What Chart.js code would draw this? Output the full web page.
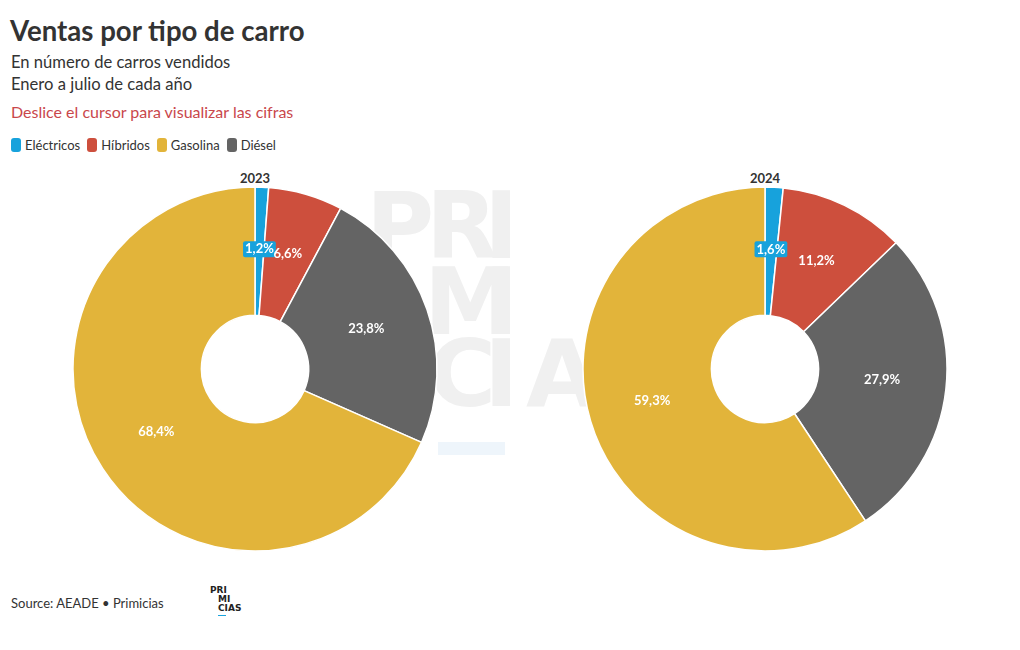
<!DOCTYPE html>
<html>
<head>
<meta charset="utf-8">
<script src="https://cdn.jsdelivr.net/npm/chart.js@4.4.1/dist/chart.umd.min.js"></script>
<style>
  body { margin:0; width:1020px; height:650px; background:#fff; font-family:"Lato", sans-serif; color:#333; position:relative; overflow:hidden; }
  .abs { position:absolute; }
  #title { left:10px; top:14px; font-size:27.6px; font-weight:bold; color:#333; }
  #sub1 { left:11px; top:52px; font-size:16.6px; }
  #sub2 { left:11px; top:74px; font-size:16.6px; }
  #hint { left:11px; top:102px; font-size:16px; color:#c9474b; }
  #legend { left:11px; top:137px; font-size:13px; display:flex; }
  #legend .it { display:flex; align-items:center; margin-right:7px; }
  #legend .sw { width:10px; height:14px; border-radius:3px; margin-right:4px; }
  .year { top:170px; width:60px; text-align:center; font-size:13px; font-weight:bold; }
  .wm { font-family:"DejaVu Sans", sans-serif; font-weight:bold; font-size:93px; color:#f0f0f0; line-height:1; }
  #wmbar { left:438px; top:442px; width:67px; height:13px; background:#eef5fb; }
  #source { left:11px; top:595px; font-size:13px; }
  #logo { left:210px; top:586px; font-family:"DejaVu Sans", sans-serif; font-weight:bold; font-size:9px; line-height:9px; color:#222; }
  canvas { position:absolute; }
</style>
</head>
<body>
<div class="abs" id="title">Ventas por tipo de carro</div>
<div class="abs" id="sub1">En número de carros vendidos</div>
<div class="abs" id="sub2">Enero a julio de cada año</div>
<div class="abs" id="hint">Deslice el cursor para visualizar las cifras</div>
<div class="abs" id="legend"></div>

<div class="abs wm" style="left:366px;top:180px;">P</div>
<div class="abs wm" style="left:426px;top:180px;">R</div>
<div class="abs wm" style="left:484px;top:180px;">I</div>
<div class="abs wm" style="left:424px;top:256px;">M</div>
<div class="abs wm" style="left:484px;top:256px;">I</div>
<div class="abs wm" style="left:428px;top:328px;">C</div>
<div class="abs wm" style="left:484px;top:328px;">I</div>
<div class="abs wm" style="left:526px;top:328px;">A</div>
<div class="abs wm" style="left:592px;top:328px;">S</div>
<div class="abs" id="wmbar"></div>

<div class="abs year" style="left:225px;">2023</div>
<div class="abs year" style="left:735px;">2024</div>

<canvas id="c2023" width="510" height="368" style="left:0;top:185px;"></canvas>
<canvas id="c2024" width="510" height="368" style="left:510px;top:185px;"></canvas>

<div class="abs" id="source">Source: AEADE • Primicias</div>
<div class="abs" id="logo">PRI<div style="padding-left:8px">MI</div><div style="padding-left:8px">CIAS</div><div style="margin-left:8px;width:8px;height:1px;background:#1aa3dc;margin-top:2px;"></div></div>

<script>
// orden de los segmentos en el anillo (empieza arriba, sentido horario)
const categories = ["Eléctricos", "Híbridos", "Diésel", "Gasolina"]
const values2023 = [1.2, 6.6, 23.8, 68.4]
const values2024 = [1.6, 11.2, 27.9, 59.3]
const colors = ["#17a2dc", "#cd4f3d", "#646464", "#e2b43a"]

// la leyenda va en otro orden
const legendOrder = ["Eléctricos", "Híbridos", "Gasolina", "Diésel"]

const leg = document.querySelector("#legend")
legendOrder.forEach(name => {
    var col = colors[categories.indexOf(name)]
    leg.innerHTML += `<div class="it"><div class="sw" style="background:${col}"></div>${name}</div>`
})

const labelsPlugin = {
    id: 'pctLabels',
    afterDatasetsDraw: (chart) => {
        const ctx = chart.ctx
        const meta = chart.getDatasetMeta(0)
        const data = chart.data.datasets[0].data
        ctx.save()
        ctx.font = 'bold 13px Lato, sans-serif'
        ctx.textAlign = 'center'
        ctx.textBaseline = 'middle'
        meta.data.forEach((arc, i) => {
            var p = arc.tooltipPosition()
            var y = p.y - 2
            var txt = data[i].toFixed(1).replace('.', ',') + '%'
            if (data[i] < 3) {
                var w = ctx.measureText(txt).width + 4
                ctx.fillStyle = colors[i]
                ctx.beginPath()
                ctx.roundRect(p.x - w / 2, y - 8, w, 16, 2)
                ctx.fill()
            }
            ctx.fillStyle = '#fff'
            ctx.fillText(txt, p.x, y)
        })
        ctx.restore()
    }
}

function donut(id, vals) {
    return new Chart(document.querySelector(id), {
        type: 'doughnut',
        data: {
            labels: categories,
            datasets: [{
                data: vals,
                backgroundColor: colors,
                borderColor: '#fff',
                borderWidth: 1.5,
                offset: 0,
                hoverOffset: 0
            }]
        },
        options: {
            responsive: false,
            animation: false,
            radius: 182,
            cutout: 54,
            plugins: { legend: { display: false }, tooltip: { enabled: true } }
        },
        plugins: [labelsPlugin]
    })
}

donut("#c2023", values2023)
donut("#c2024", values2024)
</script>
</body>
</html>
